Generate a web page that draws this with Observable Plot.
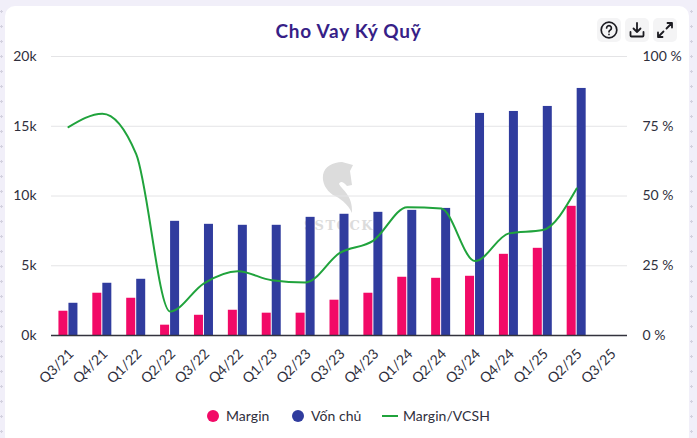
<!DOCTYPE html>
<html><head><meta charset="utf-8">
<script src="https://cdn.jsdelivr.net/npm/d3@7"></script>
<script src="https://cdn.jsdelivr.net/npm/@observablehq/plot@0.6"></script>
<style>
html,body{margin:0;padding:0;width:697px;height:438px;overflow:hidden}
body{background-color:#f1eff9;position:relative;font-family:Lato,sans-serif;color:#2f2f3d;
background-image:url("data:image/svg+xml,%3Csvg xmlns='http://www.w3.org/2000/svg' width='15' height='15'%3E%3Cpath d='M0 1.5H3M1.5 0V3' stroke='%23d3d1df' stroke-width='1'/%3E%3C/svg%3E");background-position:0 10px}
#card{position:absolute;left:5px;top:6px;width:684px;height:440px;background:#fff;border-radius:10px}
#title{position:absolute;left:0;width:697px;top:19px;text-align:center;font-size:19px;font-weight:700;color:#371f87;line-height:24px;letter-spacing:.75px}
.btn{position:absolute;top:18px;width:24px;height:24px;background:#f4f4f5;border-radius:5px}
.btn svg{display:block}
#wm{position:absolute;left:0;top:0}
#chart{position:absolute;left:0;top:0}
#chart svg{background:transparent}
#legend{position:absolute;left:0;top:0;width:697px;height:438px;font-size:14px;letter-spacing:.05px}
#legend span{position:absolute;line-height:18px}
#legend i{position:absolute;display:block}
</style></head>
<body>
<div id="card"></div>
<svg id="wm" width="697" height="438">
<path fill="#dcdcdc" d="M323 175C324 167 333 162 342 162L353 165L350 171L352 185L347 186C343 181 340 181 339 184C342 190 353 195 352 213C348 204 340 198 333 195C326 190 322 183 323 175Z"/>
<text x="339" y="230" text-anchor="middle" font-family="DejaVu Serif" font-weight="700" font-size="13" letter-spacing="1.5" fill="#dcdcdc">SSTOCK</text>
</svg>
<div id="chart"></div>
<div id="title">Cho Vay Ký Quỹ</div>
<div class="btn" style="left:597px"><svg width="24" height="24" fill="none" stroke="#1c1c22" stroke-width="1.7" stroke-linecap="round"><circle cx="12" cy="12" r="7.8"/><path d="M9.6 10a2.4 2.4 0 1 1 3.6 2.1c-.8.5-1.2 1-1.2 1.7"/><path d="M12 16.4v.1"/></svg></div>
<div class="btn" style="left:625px"><svg width="24" height="24" fill="none" stroke="#1c1c22" stroke-width="1.8" stroke-linecap="round" stroke-linejoin="round"><path d="M12 5v9M8.5 10.5 12 14l3.500-3.500"/><path d="M5.500 14v3.500a1 1 0 0 0 1 1h11a1 1 0 0 0 1-1V14"/></svg></div>
<div class="btn" style="left:653px"><svg width="24" height="24" fill="none" stroke="#1c1c22" stroke-width="1.800" stroke-linecap="round" stroke-linejoin="round"><path d="M13.500 10.500 19 5M14.500 5H19V9.500M10.500 13.500 5 19M9.500 19H5V14.500"/></svg></div>
<div id="legend">
<i style="left:207px;top:410px;width:12px;height:12px;border-radius:50%;background:#f20a67"></i><span style="left:226px;top:407px">Margin</span>
<i style="left:292px;top:410px;width:12px;height:12px;border-radius:50%;background:#303c9e"></i><span style="left:311px;top:407px">Vốn chủ</span>
<i style="left:382px;top:415px;width:16px;height:2px;background:#20a33c"></i><span style="left:403px;top:407px">Margin/VCSH</span>
</div>
<script>
const quarters = ["Q3/21","Q4/21","Q1/22","Q2/22","Q3/22","Q4/22","Q1/23","Q2/23","Q3/23","Q4/23","Q1/24","Q2/24","Q3/24","Q4/24","Q1/25","Q2/25","Q3/25"];
const margin = [1740,3030,2670,740,1450,1810,1600,1600,2530,3030,4175,4100,4245,5820,6250,9260,null];
const vonChu = [2310,3745,4030,8185,7970,7900,7900,8470,8690,8830,8970,9110,15920,16060,16420,17710,null];
const ratio = [74.7,79.5,65,8.6,18.7,23,19.8,19,29.5,34,46,45.5,26.7,36.6,37.8,52.7,null];
const leftTicks = [0,5000,10000,15000,20000];
const leftLabels = ["0k","5k","10k","15k","20k"];
const rightLabels = ["0 %","25 %","50 %","75 %","100 %"];
const PCT = 200;
const rows = quarters.map((q,i)=>({q,margin:margin[i],von:vonChu[i],ratio:ratio[i]}));
const present = rows.filter(d=>d.margin!=null);
const W = 697, H = 395, ML = 51, MR = 70;
const inset = ((W-ML-MR)/quarters.length - 9)/2;
const txt = "#2f2f3d";
const plot = Plot.plot({
  width:W,height:H,marginLeft:ML,marginRight:MR,marginTop:56,marginBottom:60,
  style:{background:"transparent",fontFamily:"Lato, sans-serif",fontSize:"14px",color:txt},
  x:{type:"band",domain:quarters,padding:0,round:false,label:null},
  y:{domain:[0,20000],label:null},
  marks:[
    Plot.gridY(leftTicks,{stroke:"#e4e4e6",strokeOpacity:1,strokeWidth:1}),
    Plot.barY(present,{x:"q",y:"margin",fill:"#f20a67",insetLeft:inset,insetRight:inset,dx:-5}),
    Plot.barY(present,{x:"q",y:"von",fill:"#303c9e",insetLeft:inset,insetRight:inset,dx:5}),
    Plot.ruleY([0],{stroke:"#33333d",strokeWidth:1.300}),
    Plot.line(present,{x:"q",y:d=>d.ratio*PCT,stroke:"#20a33c",strokeWidth:2,curve:"monotone-x"}),
    Plot.axisY(leftTicks,{anchor:"left",tickSize:0,tickPadding:15,label:null,tickFormat:(d,i)=>leftLabels[i],fill:txt}),
    Plot.axisY(leftTicks,{anchor:"right",tickSize:0,tickPadding:15,label:null,tickFormat:(d,i)=>rightLabels[i],fill:txt}),
    Plot.axisX(quarters,{tickSize:0,tickPadding:16,dx:3,tickRotate:-45,label:null,fill:txt})
  ]
});
document.getElementById("chart").appendChild(plot);
</script>
</body></html>
